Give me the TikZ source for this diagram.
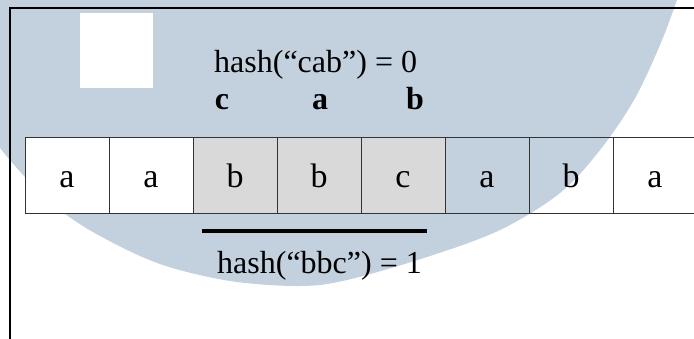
\documentclass[tikz,border=0pt]{standalone}
\usepackage{fontspec}
\setmainfont{Liberation Serif}
\definecolor{wmblue}{RGB}{195,208,222}
\definecolor{cellgray}{RGB}{217,217,217}
\begin{document}
\begin{tikzpicture}[x=1pt,y=-1pt,
  cell/.style={draw=black!80, line width=0.8pt, minimum width=84pt,
    minimum height=76pt, inner sep=0pt, text height=26pt, text depth=0pt,
    font=\fontsize{34}{38}\selectfont, anchor=center},
  plain/.style={cell, fill=white},
  window/.style={cell, fill=cellgray},
  open/.style={cell},
  hashtext/.style={font=\fontsize{32}{36}\selectfont, inner sep=0pt, anchor=base west},
  charlabel/.style={font=\fontsize{32}{36}\selectfont\bfseries, inner sep=0pt, anchor=base},
  frame/.style={line width=1.7pt, black}]
  \useasboundingbox (0,0) rectangle (694,339);
  \clip (0,0) rectangle (694,339);
  \fill[white] (0,0) rectangle (694,339);
  % background emblem
  \fill[wmblue] (0,0) -- plot[smooth, tension=0.55] coordinates {
    (677,0) (660,45) (634,100) (600,150) (560,193) (500,230) (427,257)
    (347,280) (300,286) (230,281) (160,264) (100,236) (60,210) (25,177) (0,148)}
    -- cycle;
  \fill[white] (80,13) rectangle (153,88);
  % frame
  \draw[frame] (10,339) -- (10,8) -- (694,8);
  % text row
  \node[plain]  (c1) at (67,175)  {a};
  \node[plain]  (c2) at (151,175) {a};
  \node[window] (c3) at (235,175) {b};
  \node[window] (c4) at (319,175) {b};
  \node[window] (c5) at (403,175) {c};
  \node[open]   (c6) at (487,175) {a};
  \node[open]   (c7) at (571,175) {b};
  \node[open]   (c8) at (655,175) {a};
  % pattern and its hash
  \node[hashtext] (phash) at (214,73) {hash(“cab”) = 0};
  \node[charlabel] (p1) at (222,110) {c};
  \node[charlabel] (p2) at (320,110) {a};
  \node[charlabel] (p3) at (415,110) {b};
  % current window and its hash
  \coordinate (barL) at (202,231);
  \coordinate (barR) at (427,231);
  \draw[line width=4pt] (barL) -- (barR);
  \node[hashtext] (whash) at (217,274) {hash(“bbc”) = 1};
\end{tikzpicture}
\end{document}
